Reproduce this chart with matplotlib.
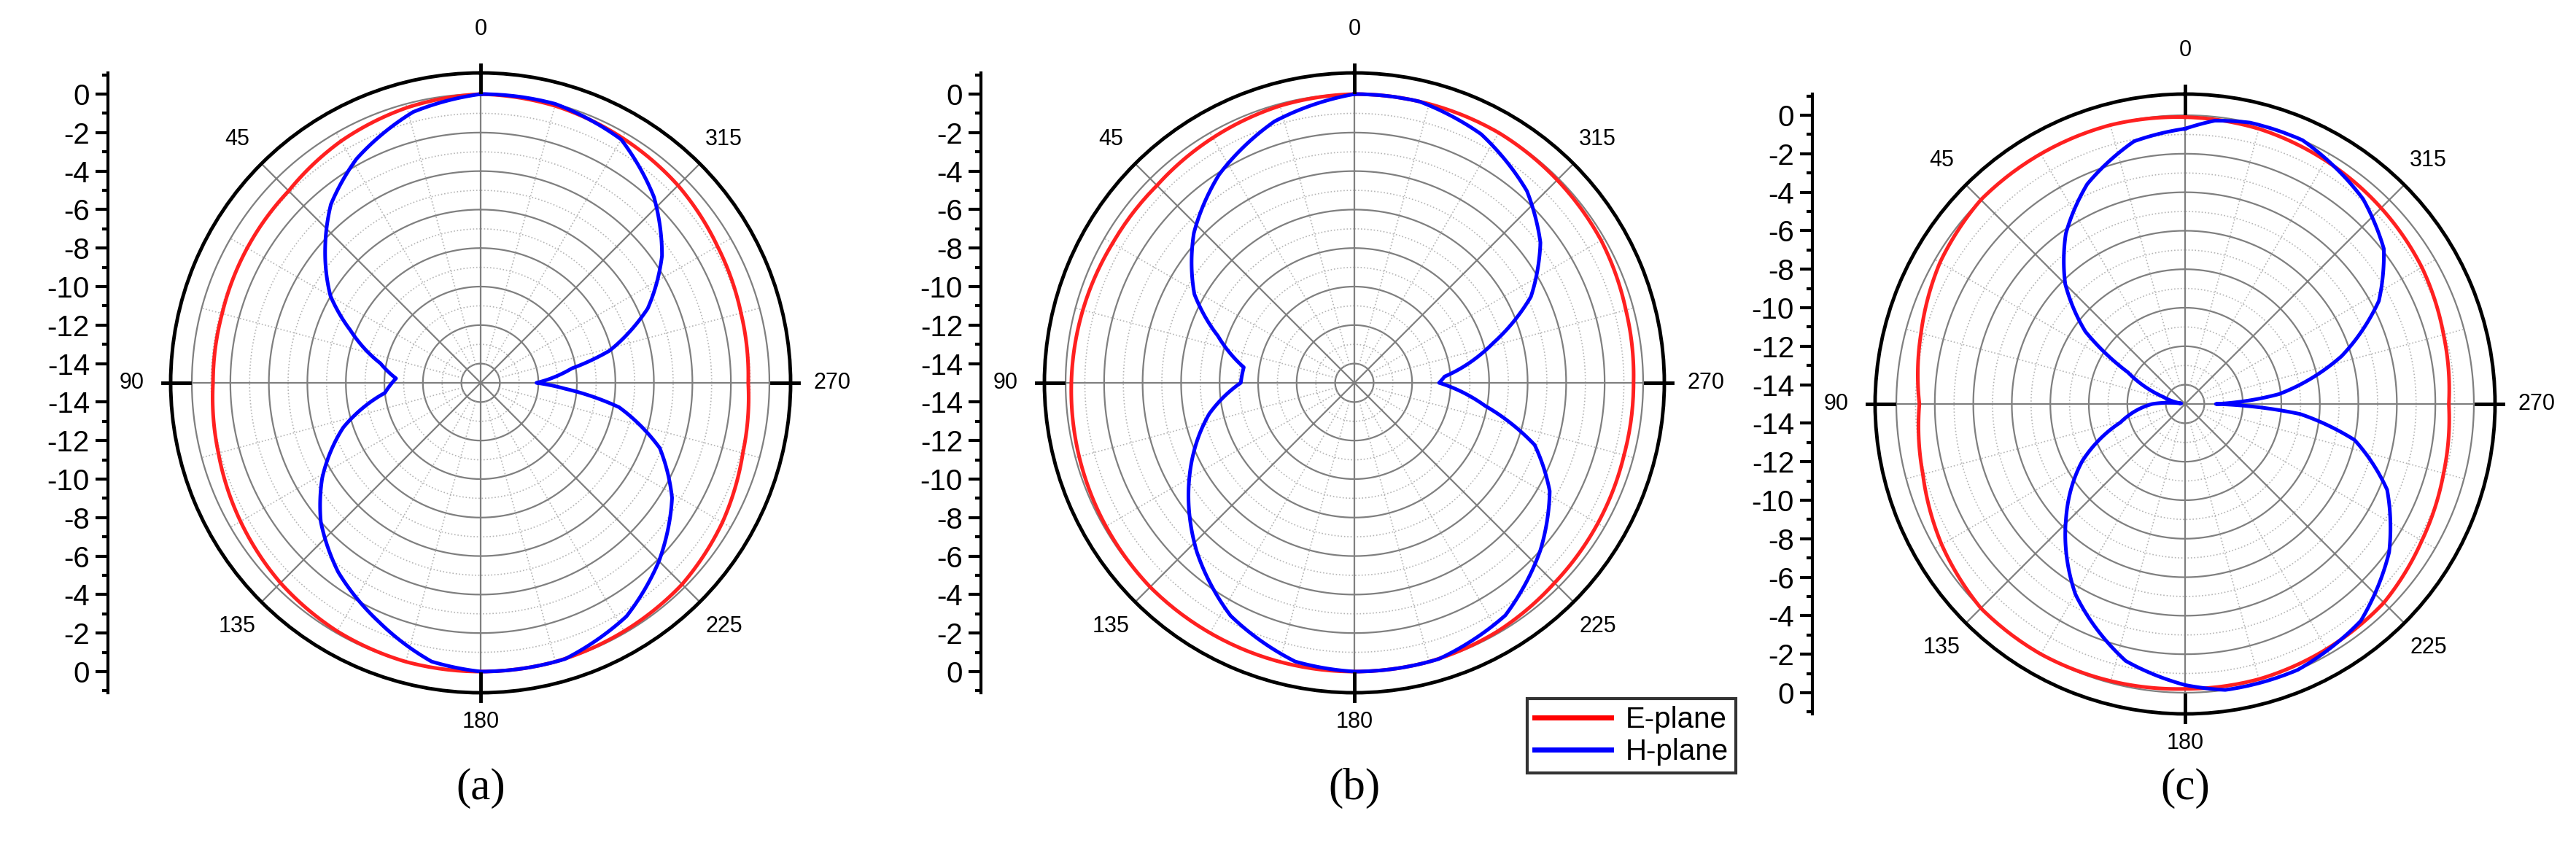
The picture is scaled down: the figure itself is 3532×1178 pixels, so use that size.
import numpy as np
import matplotlib
matplotlib.use("Agg")
import matplotlib.pyplot as plt
from matplotlib.lines import Line2D

# ---------------- data (angle deg, gain dB) ----------------
a_e_ang = [0, 15, 30, 45, 60, 75, 90, 105, 120, 135, 150, 165, 180, 195, 210, 225, 240, 255, 270, 285, 300, 315, 330, 345, 360]
a_e_val = [0, -0.2, -0.5, -0.9, -1.0, -1.1, -1.1, -0.9, -0.6, -0.3, -0.1, 0, 0, 0, -0.1, -0.2, -0.5, -0.9, -1.1, -1.0, -0.8, -0.5, -0.3, -0.1, 0]
a_h_ang = [0, 14, 29, 40, 49, 60, 68, 79, 87, 96, 108, 121, 131, 143, 157, 170, 180,
           197, 212, 225, 239, 250, 260, 266, 270, 279, 284, 294, 305, 317, 330, 345, 360]
a_h_val = [0, -0.5, -1.7, -2.9, -4.3, -6.0, -7.7, -9.7, -10.6, -10.0, -7.5, -5.4, -4.0, -2.7, -1.5, -0.3, 0,
           0, -0.7, -1.9, -3.4, -5.1, -7.7, -10.6, -12.1, -10.2, -8.1, -5.5, -3.5, -1.8, -0.4, 0, 0]

b_e_ang = [0, 15, 30, 45, 60, 75, 90, 105, 120, 135, 150, 165, 180, 195, 210, 225, 240, 255, 270, 285, 300, 315, 330, 345, 360]
b_e_val = [0, -0.1, -0.3, -0.5, -0.5, -0.4, -0.3, -0.2, -0.1, 0, 0, 0, 0, 0, -0.1, -0.3, -0.4, -0.5, -0.5, -0.4, -0.2, -0.1, 0, 0, 0]
b_h_ang = [0, 17, 33, 47, 61, 71, 82, 90, 102, 120, 137, 152, 168, 180,
           197, 213, 228, 241, 251, 260, 270, 274, 286, 296, 307, 318, 333, 347, 360]
b_h_val = [0, -0.8, -2.1, -3.6, -5.5, -7.5, -9.2, -9.1, -7.3, -5.1, -3.0, -1.3, -0.2, 0,
           0, -0.6, -2.0, -3.4, -5.1, -8.1, -10.6, -10.3, -7.5, -4.8, -2.9, -1.6, -0.5, 0, 0]

c_e_ang = [0, 15, 30, 45, 60, 75, 90, 105, 120, 135, 150, 165, 180, 195, 210, 225, 240, 255, 270, 285, 300, 315, 330, 345, 360]
c_e_val = [-0.1, 0, 0, 0, -0.3, -0.8, -1.2, -0.9, -0.4, 0, 0, -0.1, -0.2, -0.2, -0.3, -0.4, -0.8, -1.1, -1.3, -1.1, -0.8, -0.6, -0.4, -0.2, -0.1]
c_h_ang = [0, 11, 24, 35, 45, 54, 61, 72, 82, 90, 106, 119, 134, 150, 167, 180,
           188, 203, 219, 234, 247, 258, 265, 270, 276, 287, 298, 308, 319, 336, 347, 354, 360]
c_h_val = [-0.7, -1.1, -2.5, -4.2, -6.2, -8.6, -11.6, -13.8, -14.8, -13.3, -11.5, -8.9, -6.4, -3.6, -1.3, -0.4,
           0, 0, -0.5, -1.9, -3.6, -6.0, -9.0, -13.4, -10.1, -6.5, -3.6, -1.9, -0.9, 0, 0, -0.2, -0.7]

panels = [("(a)", a_e_ang, a_e_val, a_h_ang, a_h_val),
          ("(b)", b_e_ang, b_e_val, b_h_ang, b_h_val),
          ("(c)", c_e_ang, c_e_val, c_h_ang, c_h_val)]
centers = [(659, 525), (1857, 525), (2996, 554)]
axis_x = [148, 1345, 2485]
angle_labels = [0, 45, 90, 135, 180, 225, 270, 315]
radial_ticks = [0, -2, -4, -6, -8, -10, -12, -14]

W, H = 3532, 1178
fig = plt.figure(figsize=(W / 100, H / 100), dpi=100)
plt.rcParams['font.family'] = ['Liberation Sans', 'DejaVu Sans']

R = 425.0
RMIN, RMAX = -15.0, 1.1
pxdb = R / (RMAX - RMIN)

for (lab, ea, ev, ha, hv), (cx, cy), axx in zip(panels, centers, axis_x):
    ax = fig.add_axes([(cx - R) / W, (H - cy - R) / H, 2 * R / W, 2 * R / H], projection='polar')
    ax.set_theta_zero_location('N')
    ax.set_theta_direction(1)
    ax.set_ylim(RMIN, RMAX)
    ax.grid(False)
    ax.set_yticks([])
    ax.set_xticks(np.deg2rad(np.arange(0, 360, 22.5)))
    ax.set_xticklabels([])
    ax.tick_params(axis='x', direction='in', length=10, width=2.5, color='black')
    ax.spines['polar'].set_linewidth(3.5)
    tt = np.linspace(0, 2 * np.pi, 721)
    for r in range(-14, 1):
        if r % 2 == 0:
            ax.plot(tt, np.full_like(tt, r), color='#7f7f7f', lw=1.6, zorder=1)
        else:
            ax.plot(tt, np.full_like(tt, r), color='#b5b5b5', lw=1.2, ls=':', zorder=1)
    for d in range(0, 360, 15):
        t = np.deg2rad(d)
        if d % 45 == 0:
            ax.plot([t, t], [RMIN, RMAX], color='#7f7f7f', lw=1.6, zorder=1)
        else:
            ax.plot([t, t], [-14, 0], color='#b5b5b5', lw=1.2, ls=':', zorder=1)
    for d in [0, 90, 180, 270]:
        t = np.deg2rad(d)
        ax.plot([t, t], [RMAX - 1.0, RMAX + 0.4], color='black', lw=3.5, clip_on=False, zorder=5)
    le, = ax.plot(np.deg2rad(ea), ev, color='#ff2020', lw=3.6, zorder=3)
    lh, = ax.plot(np.deg2rad(ha), hv, color='#0000ff', lw=3.6, zorder=4)
    for ln in (le, lh):
        ln.get_path()._interpolation_steps = 40
    for d in angle_labels:
        rpx = {0: 485, 180: 465, 90: 478, 270: 482}.get(d, 472)
        ax.text(np.deg2rad(d), RMIN + rpx / pxdb, str(d), ha='center', va='center',
                fontsize=22, clip_on=False)

    # left linear radial scale
    lax = fig.add_axes([axx / W, (H - cy - R) / H, 0.001, 2 * R / H])
    lax.set_ylim(-(RMAX - RMIN), RMAX - RMIN)
    for s in ['top', 'right', 'bottom']:
        lax.spines[s].set_visible(False)
    lax.spines['left'].set_linewidth(3)
    lax.set_xticks([])
    pos = [v - RMIN for v in radial_ticks] + [-(v - RMIN) for v in radial_ticks]
    labs = [str(v) for v in radial_ticks] * 2
    lax.set_yticks(pos)
    lax.set_yticklabels(labs, fontsize=29)
    minor = [v - RMIN for v in range(-13, 2, 2)] + [-(v - RMIN) for v in range(-13, 2, 2)]
    lax.set_yticks(minor, minor=True)
    lax.tick_params(axis='y', which='major', direction='out', length=12, width=3, pad=6)
    lax.tick_params(axis='y', which='minor', direction='out', length=6, width=3)

    fig.text(cx / W, 1 - 1081 / H, lab, ha='center', va='center', fontsize=44,
             family=['Liberation Serif', 'DejaVu Serif'])

handles = [Line2D([], [], color='#ff0000', lw=5), Line2D([], [], color='#0000ff', lw=5)]
leg = fig.legend(handles, ['E-plane', 'H-plane'], loc='upper left',
                 bbox_to_anchor=(2094 / W, 1 - 958 / H), fontsize=29, frameon=True,
                 fancybox=False, edgecolor='black', handlelength=2.6, handletextpad=0.5,
                 borderpad=0.25, labelspacing=0.15, borderaxespad=0)
leg.get_frame().set_linewidth(3)

fig.savefig('out.png', dpi=100)
